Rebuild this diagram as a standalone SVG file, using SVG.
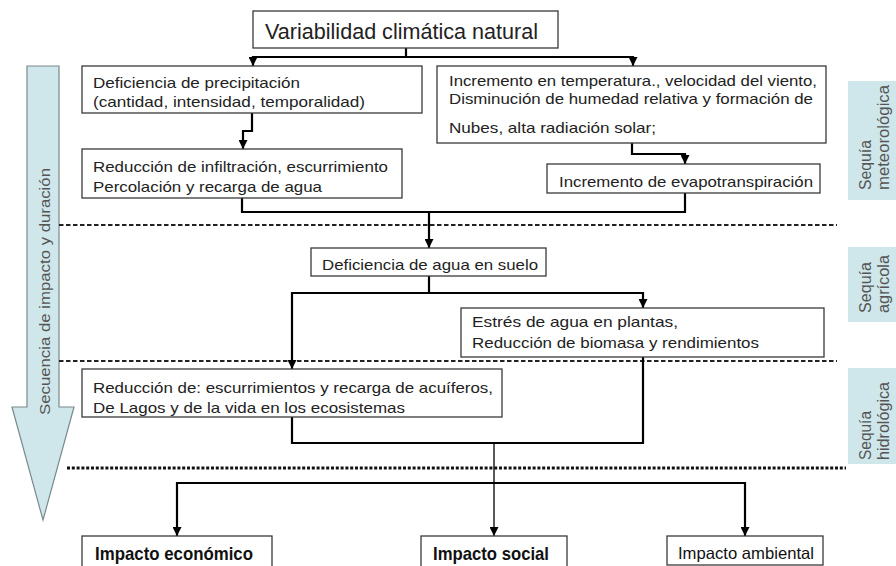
<svg xmlns="http://www.w3.org/2000/svg" width="896" height="566" viewBox="0 0 896 566">
<defs>
<marker id="ah" viewBox="0 0 10 10" refX="10" refY="5" markerWidth="9" markerHeight="9" markerUnits="userSpaceOnUse" orient="auto">
<path d="M0,0 L10,5 L0,10 z" fill="#000"/>
</marker>
<style>
.box{fill:#fff;stroke:#3a3a3a;stroke-width:1.3}
.t{font-family:"Liberation Sans",Arial,sans-serif;font-size:15px;fill:#222}
.c{fill:none;stroke:#000;stroke-width:2.2}
.ca{fill:none;stroke:#000;stroke-width:2.2;marker-end:url(#ah)}
.dash{fill:none;stroke:#222;stroke-width:1.8;stroke-dasharray:4.5 2.5}
.dot{fill:none;stroke:#111;stroke-width:3;stroke-dasharray:3 1.8}
.lab{fill:#cfe7ea}
.lt{font-family:"Liberation Sans",Arial,sans-serif;font-size:16px;fill:#555}
.imp{font-family:"Liberation Sans",Arial,sans-serif;fill:#111}
</style>
</defs>
<rect width="896" height="566" fill="#fff"/>

<g id="secuencia">
<polygon points="27,66 59,66 59,407 74,407 43,520 12,407 27,407" fill="#cfe7ea" stroke="#7a8a8c" stroke-width="1.2"/>
<text class="lt" transform="translate(50,415) rotate(-90)" textLength="247" lengthAdjust="spacingAndGlyphs" style="font-size:15.5px">Secuencia de impacto y duración</text>
</g>

<g id="separators">
<line class="dash" x1="59" y1="225" x2="837" y2="225"/>
<line class="dash" x1="59" y1="361" x2="837" y2="361"/>
<line class="dot" x1="67" y1="468" x2="846" y2="468"/>
</g>

<g id="labels">
<g id="lab-meteo">
<rect class="lab" x="848" y="81" width="48" height="119"/>
<text class="lt" transform="translate(871,190) rotate(-90)" textLength="50" lengthAdjust="spacingAndGlyphs">Sequía</text>
<text class="lt" transform="translate(889,190) rotate(-90)" textLength="105" lengthAdjust="spacingAndGlyphs">meteorológica</text>
</g>
<g id="lab-agri">
<rect class="lab" x="848" y="247" width="48" height="75"/>
<text class="lt" transform="translate(871,313) rotate(-90)" textLength="51" lengthAdjust="spacingAndGlyphs">Sequía</text>
<text class="lt" transform="translate(889,313) rotate(-90)" textLength="58" lengthAdjust="spacingAndGlyphs">agrícola</text>
</g>
<g id="lab-hidro">
<rect class="lab" x="848" y="368" width="48" height="96"/>
<text class="lt" transform="translate(871,460) rotate(-90)" textLength="49" lengthAdjust="spacingAndGlyphs">Sequía</text>
<text class="lt" transform="translate(889,460) rotate(-90)" textLength="78" lengthAdjust="spacingAndGlyphs">hidrológica</text>
</g>
</g>

<g id="connectors">
<path class="c" d="M406,48 V57 M253,57 H633"/>
<path class="ca" d="M253,56 V66"/>
<path class="ca" d="M633,56 V66"/>
<path class="ca" d="M252,113 V131 H243 V149"/>
<path class="ca" d="M632,143 V154 H685 V164"/>
<path class="c" d="M242,198 V212 H685 V193"/>
<path class="ca" d="M429,212 V248"/>
<path class="c" d="M429,276 V293 M292,293 H643"/>
<path class="ca" d="M643,292 V308"/>
<path class="ca" d="M292,292 V369"/>
<path class="c" d="M292,417 V443 H643 V357"/>
<path class="ca" d="M494,443 V536" style="stroke-width:1.3"/>
<path class="c" d="M177,483 H745"/>
<path class="ca" d="M177,482 V536"/>
<path class="ca" d="M745,482 V536"/>
</g>

<g id="n-variabilidad">
<rect class="box" x="253" y="11" width="305" height="37"/>
<text class="t" x="265" y="39" style="font-size:21.5px" textLength="273" lengthAdjust="spacingAndGlyphs">Variabilidad climática natural</text>
</g>

<g id="n-precip">
<rect class="box" x="82" y="66" width="340" height="47"/>
<text class="t" x="93" y="88" textLength="207" lengthAdjust="spacingAndGlyphs">Deficiencia de precipitación</text>
<text class="t" x="93" y="107" textLength="272" lengthAdjust="spacingAndGlyphs">(cantidad, intensidad, temporalidad)</text>
</g>

<g id="n-temp">
<rect class="box" x="437" y="66" width="389" height="77"/>
<text class="t" x="449" y="86" style="font-size:14.5px" textLength="368" lengthAdjust="spacingAndGlyphs">Incremento en temperatura., velocidad del viento,</text>
<text class="t" x="449" y="104" style="font-size:14.5px" textLength="364" lengthAdjust="spacingAndGlyphs">Disminución de humedad relativa y formación de</text>
<text class="t" x="449" y="133" style="font-size:14.5px" textLength="207" lengthAdjust="spacingAndGlyphs">Nubes, alta radiación solar;</text>
</g>

<g id="n-infiltracion">
<rect class="box" x="82" y="149" width="320" height="49"/>
<text class="t" x="93" y="172" textLength="295" lengthAdjust="spacingAndGlyphs">Reducción de infiltración, escurrimiento</text>
<text class="t" x="93" y="192" textLength="229" lengthAdjust="spacingAndGlyphs">Percolación y recarga de agua</text>
</g>

<g id="n-evapo">
<rect class="box" x="547" y="164" width="273" height="29"/>
<text class="t" x="559" y="187" textLength="254" lengthAdjust="spacingAndGlyphs">Incremento de evapotranspiración</text>
</g>

<g id="n-suelo">
<rect class="box" x="311" y="248" width="235" height="28"/>
<text class="t" x="322" y="270" textLength="216" lengthAdjust="spacingAndGlyphs">Deficiencia de agua en suelo</text>
</g>

<g id="n-plantas">
<rect class="box" x="461" y="308" width="363" height="49"/>
<text class="t" x="472" y="327" textLength="206" lengthAdjust="spacingAndGlyphs">Estrés de agua en plantas,</text>
<text class="t" x="472" y="348" textLength="287" lengthAdjust="spacingAndGlyphs">Reducción de biomasa y rendimientos</text>
</g>

<g id="n-acuiferos">
<rect class="box" x="82" y="369" width="420" height="48"/>
<text class="t" x="93" y="393" textLength="400" lengthAdjust="spacingAndGlyphs">Reducción de: escurrimientos y recarga de acuíferos,</text>
<text class="t" x="93" y="413" textLength="312" lengthAdjust="spacingAndGlyphs">De Lagos y de la vida en los ecosistemas</text>
</g>

<g id="n-economico">
<rect class="box" x="82" y="536" width="190" height="40"/>
<text class="imp" x="95" y="560" style="font-size:18.5px;font-weight:bold" textLength="158" lengthAdjust="spacingAndGlyphs">Impacto económico</text>
</g>

<g id="n-social">
<rect class="box" x="421" y="536" width="146" height="40"/>
<text class="imp" x="433" y="560" style="font-size:18.5px;font-weight:bold" textLength="116" lengthAdjust="spacingAndGlyphs">Impacto social</text>
</g>

<g id="n-ambiental">
<rect class="box" x="667" y="536" width="156" height="29"/>
<text class="imp" x="678" y="559" style="font-size:16.5px" textLength="136" lengthAdjust="spacingAndGlyphs">Impacto ambiental</text>
</g>
</svg>
